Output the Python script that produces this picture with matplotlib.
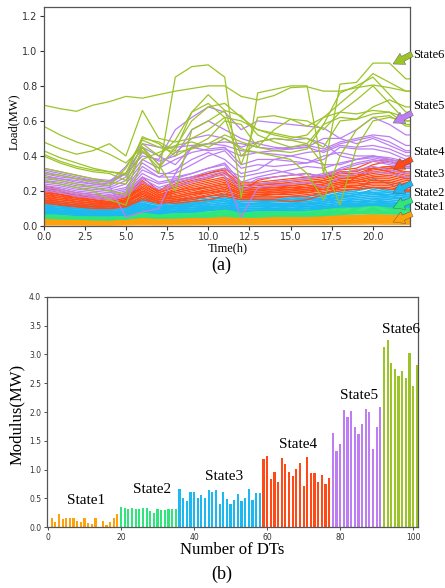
import matplotlib
matplotlib.use("Agg")
import matplotlib.pyplot as plt
import numpy as np

# ---------------- data ----------------
hours = list(range(24))

state_names = ["State1", "State2", "State3", "State4", "State5", "State6"]
state_colors = ["#FFA10A", "#2EE67C", "#1CB8F2", "#FF4A17", "#BC7EF2", "#9CC428"]

state1_loads = [
    [0.050,0.048,0.045,0.043,0.040,0.043,0.050,0.046,0.048,0.050,0.052,0.055,0.052,0.052,0.053,0.054,0.055,0.056,0.060,0.062,0.065,0.063,0.060,0.060],
    [0.047,0.045,0.043,0.041,0.039,0.041,0.047,0.044,0.046,0.048,0.050,0.052,0.049,0.050,0.051,0.051,0.052,0.054,0.057,0.059,0.061,0.060,0.058,0.058],
    [0.044,0.042,0.040,0.038,0.037,0.039,0.045,0.042,0.043,0.045,0.047,0.049,0.047,0.047,0.048,0.049,0.050,0.051,0.054,0.056,0.058,0.057,0.055,0.055],
    [0.042,0.040,0.038,0.036,0.035,0.037,0.043,0.040,0.041,0.043,0.045,0.047,0.045,0.045,0.046,0.046,0.047,0.049,0.052,0.053,0.055,0.054,0.052,0.052],
    [0.040,0.038,0.036,0.035,0.033,0.035,0.041,0.038,0.039,0.041,0.043,0.045,0.043,0.043,0.044,0.044,0.045,0.047,0.049,0.051,0.053,0.052,0.050,0.050],
    [0.038,0.036,0.035,0.033,0.032,0.034,0.039,0.036,0.038,0.039,0.041,0.043,0.041,0.041,0.042,0.042,0.043,0.045,0.047,0.049,0.050,0.049,0.048,0.048],
    [0.036,0.035,0.033,0.032,0.030,0.032,0.037,0.035,0.036,0.037,0.039,0.041,0.039,0.039,0.040,0.040,0.041,0.043,0.045,0.046,0.048,0.047,0.046,0.046],
    [0.034,0.033,0.031,0.030,0.029,0.030,0.035,0.033,0.034,0.035,0.037,0.039,0.037,0.037,0.038,0.038,0.039,0.041,0.043,0.044,0.046,0.045,0.043,0.043],
    [0.032,0.031,0.030,0.028,0.027,0.029,0.033,0.031,0.032,0.034,0.035,0.037,0.035,0.035,0.036,0.036,0.037,0.038,0.041,0.042,0.043,0.043,0.041,0.041],
    [0.030,0.029,0.028,0.027,0.026,0.027,0.031,0.029,0.030,0.032,0.033,0.035,0.033,0.033,0.034,0.034,0.035,0.036,0.038,0.040,0.041,0.040,0.039,0.039],
    [0.028,0.027,0.026,0.025,0.024,0.025,0.029,0.027,0.028,0.030,0.031,0.032,0.031,0.031,0.032,0.032,0.033,0.034,0.036,0.037,0.039,0.038,0.037,0.037],
    [0.026,0.025,0.024,0.023,0.022,0.024,0.027,0.025,0.026,0.028,0.029,0.030,0.029,0.029,0.030,0.030,0.031,0.032,0.034,0.035,0.036,0.036,0.035,0.035],
    [0.024,0.023,0.022,0.021,0.021,0.022,0.025,0.024,0.024,0.026,0.027,0.028,0.027,0.027,0.028,0.028,0.029,0.030,0.032,0.033,0.034,0.033,0.032,0.032],
    [0.022,0.021,0.020,0.019,0.019,0.020,0.023,0.022,0.022,0.024,0.025,0.026,0.025,0.025,0.026,0.026,0.027,0.028,0.029,0.030,0.031,0.031,0.030,0.030],
    [0.019,0.018,0.018,0.017,0.017,0.018,0.021,0.019,0.020,0.021,0.022,0.023,0.022,0.022,0.023,0.023,0.024,0.025,0.026,0.027,0.028,0.028,0.027,0.027],
    [0.016,0.016,0.015,0.015,0.014,0.015,0.018,0.017,0.017,0.018,0.019,0.020,0.019,0.019,0.020,0.020,0.021,0.022,0.023,0.024,0.025,0.024,0.024,0.024],
    [0.013,0.013,0.012,0.012,0.012,0.013,0.015,0.014,0.014,0.015,0.016,0.017,0.016,0.016,0.017,0.017,0.018,0.018,0.019,0.020,0.021,0.021,0.020,0.020],
    [0.010,0.010,0.009,0.009,0.009,0.010,0.011,0.011,0.011,0.012,0.012,0.013,0.012,0.012,0.013,0.013,0.013,0.014,0.015,0.016,0.016,0.016,0.015,0.015],
    [0.006,0.006,0.006,0.005,0.005,0.006,0.007,0.006,0.007,0.007,0.008,0.008,0.008,0.008,0.008,0.008,0.009,0.009,0.010,0.010,0.011,0.010,0.010,0.010],
]

state2_loads = [
    [0.090,0.080,0.080,0.070,0.070,0.080,0.100,0.090,0.090,0.100,0.100,0.110,0.100,0.100,0.100,0.100,0.100,0.110,0.120,0.130,0.140,0.130,0.130,0.130],
    [0.085,0.080,0.075,0.070,0.065,0.070,0.090,0.080,0.085,0.090,0.095,0.100,0.090,0.090,0.095,0.095,0.100,0.105,0.115,0.120,0.130,0.125,0.120,0.120],
    [0.080,0.075,0.070,0.065,0.060,0.065,0.085,0.075,0.080,0.085,0.090,0.095,0.085,0.085,0.090,0.090,0.090,0.100,0.110,0.115,0.120,0.120,0.110,0.110],
    [0.075,0.070,0.065,0.060,0.060,0.065,0.080,0.070,0.075,0.080,0.085,0.090,0.080,0.080,0.085,0.085,0.090,0.095,0.100,0.110,0.115,0.110,0.105,0.105],
    [0.070,0.065,0.060,0.060,0.055,0.060,0.075,0.070,0.070,0.075,0.080,0.085,0.080,0.080,0.080,0.080,0.085,0.090,0.100,0.105,0.110,0.105,0.100,0.100],
    [0.070,0.065,0.060,0.055,0.050,0.055,0.070,0.065,0.070,0.070,0.075,0.080,0.075,0.075,0.075,0.080,0.080,0.085,0.095,0.100,0.105,0.100,0.095,0.095],
    [0.065,0.060,0.055,0.050,0.050,0.055,0.070,0.060,0.065,0.070,0.075,0.080,0.070,0.070,0.075,0.075,0.075,0.080,0.090,0.095,0.100,0.095,0.090,0.090],
    [0.060,0.055,0.055,0.050,0.045,0.050,0.065,0.060,0.060,0.065,0.070,0.075,0.070,0.070,0.070,0.070,0.075,0.080,0.085,0.090,0.095,0.090,0.090,0.090],
    [0.060,0.055,0.050,0.045,0.045,0.050,0.060,0.055,0.060,0.060,0.065,0.070,0.065,0.065,0.065,0.070,0.070,0.075,0.080,0.085,0.090,0.085,0.085,0.085],
    [0.055,0.050,0.050,0.045,0.040,0.045,0.060,0.055,0.055,0.060,0.065,0.070,0.060,0.060,0.065,0.065,0.065,0.070,0.080,0.080,0.085,0.080,0.080,0.080],
    [0.050,0.050,0.045,0.040,0.040,0.045,0.055,0.050,0.055,0.055,0.060,0.065,0.060,0.060,0.060,0.060,0.065,0.070,0.075,0.080,0.080,0.080,0.075,0.075],
    [0.050,0.045,0.045,0.040,0.040,0.040,0.055,0.050,0.050,0.055,0.060,0.060,0.055,0.055,0.060,0.060,0.060,0.065,0.070,0.075,0.080,0.075,0.070,0.070],
    [0.045,0.045,0.040,0.040,0.035,0.040,0.050,0.045,0.050,0.050,0.055,0.060,0.055,0.055,0.055,0.055,0.060,0.060,0.070,0.070,0.075,0.070,0.070,0.070],
    [0.045,0.040,0.040,0.035,0.035,0.040,0.050,0.045,0.045,0.050,0.050,0.055,0.050,0.050,0.055,0.055,0.055,0.060,0.065,0.070,0.070,0.070,0.065,0.065],
    [0.080,0.070,0.065,0.060,0.060,0.070,0.090,0.075,0.090,0.100,0.105,0.110,0.090,0.085,0.090,0.095,0.100,0.100,0.110,0.120,0.125,0.120,0.115,0.115],
    [0.065,0.060,0.060,0.055,0.050,0.060,0.080,0.070,0.075,0.080,0.090,0.090,0.080,0.075,0.080,0.085,0.090,0.095,0.105,0.110,0.115,0.110,0.100,0.100],
]

state3_loads = [
    [0.15,0.14,0.13,0.12,0.12,0.13,0.16,0.14,0.15,0.16,0.17,0.18,0.16,0.16,0.16,0.16,0.17,0.18,0.20,0.21,0.22,0.21,0.20,0.20],
    [0.14,0.13,0.12,0.12,0.11,0.12,0.15,0.13,0.14,0.15,0.16,0.17,0.15,0.15,0.15,0.16,0.16,0.17,0.19,0.20,0.27,0.24,0.19,0.19],
    [0.14,0.13,0.12,0.11,0.11,0.12,0.15,0.13,0.13,0.14,0.15,0.16,0.15,0.15,0.15,0.15,0.16,0.17,0.18,0.19,0.20,0.20,0.19,0.19],
    [0.13,0.12,0.12,0.11,0.10,0.11,0.14,0.12,0.13,0.14,0.15,0.16,0.14,0.14,0.15,0.15,0.15,0.16,0.18,0.19,0.19,0.19,0.18,0.18],
    [0.13,0.12,0.11,0.10,0.10,0.11,0.14,0.12,0.12,0.13,0.14,0.15,0.14,0.14,0.14,0.14,0.15,0.16,0.17,0.18,0.19,0.18,0.17,0.17],
    [0.12,0.11,0.11,0.10,0.09,0.10,0.13,0.11,0.12,0.13,0.14,0.15,0.13,0.13,0.14,0.14,0.14,0.15,0.17,0.17,0.18,0.18,0.17,0.17],
    [0.12,0.11,0.10,0.10,0.09,0.10,0.13,0.11,0.12,0.12,0.13,0.14,0.13,0.13,0.13,0.13,0.14,0.15,0.16,0.17,0.18,0.17,0.16,0.16],
    [0.11,0.11,0.10,0.09,0.09,0.10,0.12,0.11,0.11,0.12,0.13,0.14,0.12,0.13,0.13,0.13,0.13,0.14,0.16,0.16,0.17,0.17,0.16,0.16],
    [0.11,0.10,0.10,0.09,0.08,0.09,0.12,0.10,0.11,0.12,0.12,0.13,0.12,0.12,0.12,0.13,0.13,0.14,0.15,0.16,0.17,0.16,0.15,0.15],
    [0.11,0.10,0.09,0.09,0.08,0.09,0.12,0.10,0.11,0.11,0.12,0.13,0.12,0.12,0.12,0.12,0.13,0.13,0.15,0.15,0.16,0.16,0.15,0.15],
    [0.10,0.10,0.09,0.08,0.08,0.09,0.11,0.10,0.10,0.11,0.12,0.13,0.11,0.11,0.12,0.12,0.12,0.13,0.14,0.15,0.16,0.15,0.14,0.14],
    [0.10,0.09,0.09,0.08,0.08,0.08,0.11,0.09,0.10,0.11,0.11,0.12,0.11,0.11,0.11,0.12,0.12,0.13,0.14,0.14,0.15,0.15,0.14,0.14],
    [0.10,0.09,0.08,0.08,0.07,0.08,0.11,0.09,0.10,0.10,0.11,0.12,0.11,0.11,0.11,0.11,0.12,0.12,0.13,0.14,0.15,0.14,0.13,0.13],
    [0.09,0.09,0.08,0.08,0.07,0.08,0.10,0.09,0.09,0.10,0.11,0.12,0.10,0.10,0.11,0.11,0.11,0.12,0.13,0.14,0.14,0.14,0.13,0.13],
    [0.09,0.08,0.08,0.07,0.07,0.08,0.10,0.08,0.09,0.10,0.10,0.11,0.10,0.10,0.10,0.11,0.11,0.12,0.13,0.13,0.14,0.13,0.13,0.13],
    [0.09,0.08,0.08,0.07,0.07,0.07,0.10,0.08,0.09,0.09,0.10,0.11,0.10,0.10,0.10,0.10,0.11,0.11,0.12,0.13,0.13,0.13,0.12,0.12],
    [0.08,0.08,0.07,0.07,0.06,0.07,0.09,0.08,0.08,0.09,0.10,0.11,0.09,0.09,0.10,0.10,0.10,0.11,0.12,0.12,0.13,0.13,0.12,0.12],
    [0.08,0.07,0.07,0.07,0.06,0.07,0.09,0.08,0.08,0.09,0.09,0.10,0.09,0.09,0.09,0.10,0.10,0.11,0.12,0.12,0.12,0.12,0.11,0.11],
    [0.08,0.07,0.07,0.06,0.06,0.07,0.09,0.07,0.08,0.08,0.09,0.10,0.09,0.09,0.09,0.09,0.10,0.10,0.11,0.12,0.12,0.12,0.11,0.11],
    [0.07,0.07,0.06,0.06,0.06,0.06,0.08,0.07,0.08,0.08,0.09,0.10,0.08,0.09,0.09,0.09,0.09,0.10,0.11,0.11,0.12,0.11,0.11,0.11],
    [0.12,0.11,0.10,0.09,0.09,0.10,0.15,0.13,0.10,0.12,0.14,0.18,0.17,0.15,0.14,0.14,0.15,0.16,0.19,0.20,0.22,0.20,0.18,0.18],
    [0.13,0.12,0.11,0.10,0.10,0.11,0.13,0.10,0.12,0.14,0.15,0.14,0.12,0.13,0.14,0.15,0.16,0.15,0.16,0.18,0.21,0.19,0.17,0.17],
    [0.10,0.09,0.09,0.08,0.08,0.09,0.12,0.10,0.11,0.13,0.14,0.15,0.13,0.12,0.12,0.12,0.13,0.14,0.17,0.18,0.19,0.17,0.15,0.15],
]

state4_loads = [
    [0.23,0.21,0.19,0.18,0.17,0.19,0.28,0.20,0.24,0.27,0.30,0.33,0.25,0.25,0.26,0.27,0.28,0.29,0.32,0.33,0.37,0.38,0.36,0.36],
    [0.22,0.20,0.18,0.17,0.16,0.18,0.26,0.19,0.23,0.26,0.28,0.31,0.24,0.24,0.25,0.26,0.27,0.28,0.31,0.31,0.35,0.37,0.34,0.34],
    [0.21,0.19,0.18,0.16,0.15,0.17,0.25,0.19,0.22,0.25,0.27,0.30,0.23,0.24,0.24,0.25,0.26,0.27,0.30,0.30,0.33,0.34,0.33,0.33],
    [0.20,0.18,0.17,0.16,0.15,0.17,0.24,0.18,0.21,0.24,0.26,0.28,0.23,0.23,0.24,0.24,0.25,0.26,0.29,0.29,0.32,0.33,0.31,0.31],
    [0.19,0.18,0.16,0.15,0.14,0.16,0.23,0.18,0.20,0.23,0.25,0.27,0.22,0.22,0.23,0.23,0.24,0.26,0.28,0.28,0.31,0.32,0.30,0.30],
    [0.19,0.17,0.16,0.15,0.14,0.16,0.22,0.17,0.20,0.22,0.24,0.26,0.21,0.22,0.22,0.23,0.24,0.25,0.27,0.28,0.30,0.31,0.29,0.29],
    [0.18,0.17,0.15,0.14,0.13,0.15,0.22,0.17,0.19,0.21,0.23,0.25,0.21,0.21,0.22,0.22,0.23,0.24,0.27,0.27,0.29,0.30,0.28,0.28],
    [0.18,0.16,0.15,0.14,0.13,0.15,0.21,0.16,0.19,0.21,0.22,0.24,0.20,0.21,0.21,0.22,0.22,0.24,0.26,0.26,0.28,0.29,0.27,0.27],
    [0.17,0.16,0.14,0.13,0.13,0.14,0.20,0.16,0.18,0.20,0.22,0.24,0.20,0.20,0.21,0.21,0.22,0.23,0.25,0.26,0.28,0.28,0.26,0.26],
    [0.17,0.15,0.14,0.13,0.12,0.14,0.20,0.16,0.17,0.19,0.21,0.23,0.19,0.20,0.20,0.21,0.21,0.23,0.25,0.25,0.27,0.27,0.25,0.25],
    [0.16,0.15,0.14,0.13,0.12,0.14,0.19,0.15,0.17,0.19,0.20,0.22,0.19,0.19,0.20,0.20,0.21,0.22,0.24,0.25,0.26,0.26,0.24,0.24],
    [0.16,0.14,0.13,0.12,0.12,0.13,0.19,0.15,0.16,0.18,0.20,0.22,0.18,0.19,0.19,0.20,0.20,0.22,0.24,0.24,0.25,0.25,0.23,0.23],
    [0.15,0.14,0.13,0.12,0.11,0.13,0.18,0.15,0.16,0.18,0.19,0.21,0.18,0.18,0.19,0.19,0.20,0.21,0.23,0.23,0.25,0.25,0.23,0.23],
    [0.15,0.13,0.12,0.11,0.11,0.12,0.17,0.14,0.15,0.17,0.19,0.20,0.17,0.18,0.18,0.19,0.19,0.21,0.22,0.23,0.24,0.24,0.22,0.22],
    [0.14,0.13,0.12,0.11,0.10,0.12,0.17,0.14,0.15,0.16,0.18,0.20,0.17,0.17,0.18,0.18,0.19,0.20,0.22,0.22,0.23,0.23,0.21,0.21],
    [0.14,0.12,0.11,0.11,0.10,0.11,0.16,0.13,0.14,0.16,0.17,0.19,0.16,0.17,0.17,0.17,0.18,0.19,0.21,0.21,0.22,0.22,0.20,0.20],
    [0.13,0.12,0.11,0.10,0.10,0.11,0.15,0.13,0.14,0.15,0.17,0.18,0.16,0.16,0.16,0.17,0.17,0.19,0.20,0.21,0.22,0.21,0.20,0.20],
    [0.22,0.20,0.17,0.15,0.13,0.14,0.18,0.14,0.13,0.14,0.15,0.17,0.15,0.15,0.15,0.14,0.15,0.18,0.22,0.28,0.33,0.34,0.30,0.30],
    [0.20,0.18,0.16,0.14,0.13,0.15,0.25,0.20,0.26,0.28,0.30,0.32,0.19,0.26,0.28,0.29,0.30,0.28,0.30,0.32,0.33,0.31,0.27,0.27],
]

state5_loads = [
    [0.33,0.31,0.29,0.27,0.26,0.30,0.40,0.38,0.55,0.62,0.68,0.65,0.55,0.60,0.59,0.58,0.57,0.56,0.50,0.55,0.62,0.58,0.52,0.52],
    [0.32,0.30,0.28,0.26,0.25,0.34,0.47,0.45,0.45,0.46,0.47,0.48,0.47,0.45,0.44,0.45,0.46,0.44,0.48,0.50,0.52,0.51,0.46,0.46],
    [0.30,0.28,0.27,0.25,0.24,0.30,0.45,0.40,0.35,0.45,0.47,0.46,0.43,0.42,0.41,0.40,0.42,0.43,0.47,0.49,0.51,0.48,0.43,0.43],
    [0.28,0.27,0.25,0.24,0.23,0.28,0.42,0.37,0.40,0.55,0.60,0.55,0.50,0.47,0.45,0.44,0.45,0.50,0.50,0.47,0.50,0.46,0.42,0.42],
    [0.27,0.26,0.24,0.23,0.22,0.26,0.38,0.33,0.38,0.42,0.44,0.45,0.35,0.38,0.38,0.37,0.36,0.38,0.45,0.44,0.44,0.42,0.38,0.38],
    [0.26,0.25,0.23,0.22,0.21,0.24,0.36,0.30,0.30,0.35,0.40,0.43,0.33,0.35,0.34,0.35,0.36,0.40,0.42,0.40,0.40,0.38,0.36,0.36],
    [0.25,0.24,0.22,0.21,0.20,0.22,0.34,0.28,0.32,0.38,0.42,0.38,0.30,0.32,0.38,0.40,0.38,0.35,0.35,0.38,0.40,0.39,0.37,0.37],
    [0.24,0.23,0.21,0.20,0.19,0.21,0.32,0.28,0.28,0.30,0.33,0.36,0.25,0.28,0.30,0.32,0.34,0.33,0.36,0.38,0.39,0.37,0.35,0.35],
    [0.23,0.22,0.20,0.19,0.18,0.20,0.30,0.25,0.27,0.30,0.33,0.35,0.22,0.27,0.28,0.29,0.30,0.28,0.33,0.36,0.38,0.36,0.34,0.34],
    [0.22,0.21,0.19,0.18,0.17,0.19,0.28,0.24,0.26,0.28,0.31,0.33,0.28,0.30,0.32,0.30,0.28,0.30,0.32,0.35,0.37,0.35,0.33,0.33],
    [0.21,0.20,0.18,0.17,0.16,0.18,0.27,0.22,0.25,0.27,0.29,0.31,0.20,0.24,0.25,0.26,0.27,0.29,0.30,0.32,0.34,0.32,0.30,0.30],
    [0.20,0.19,0.17,0.16,0.15,0.17,0.25,0.21,0.23,0.25,0.28,0.29,0.05,0.22,0.23,0.24,0.25,0.22,0.28,0.30,0.31,0.30,0.28,0.28],
    [0.31,0.29,0.27,0.26,0.25,0.30,0.45,0.35,0.42,0.50,0.52,0.50,0.45,0.48,0.50,0.49,0.50,0.47,0.40,0.38,0.40,0.38,0.36,0.36],
    [0.29,0.27,0.26,0.24,0.23,0.05,0.08,0.10,0.30,0.45,0.43,0.44,0.40,0.42,0.43,0.44,0.45,0.42,0.46,0.45,0.46,0.44,0.40,0.40],
]

state6_loads = [
    [0.69,0.67,0.655,0.69,0.71,0.74,0.73,0.75,0.77,0.785,0.80,0.80,0.74,0.72,0.745,0.79,0.795,0.77,0.77,0.79,0.805,0.79,0.77,0.77],
    [0.57,0.52,0.48,0.45,0.41,0.36,0.45,0.30,0.85,0.91,0.92,0.85,0.16,0.76,0.78,0.80,0.80,0.30,0.81,0.82,0.93,0.93,0.84,0.84],
    [0.48,0.44,0.41,0.43,0.47,0.40,0.66,0.50,0.48,0.50,0.55,0.62,0.60,0.55,0.52,0.50,0.52,0.62,0.70,0.78,0.87,0.82,0.77,0.77],
    [0.43,0.39,0.36,0.33,0.31,0.30,0.50,0.48,0.43,0.65,0.75,0.66,0.63,0.52,0.48,0.45,0.47,0.58,0.76,0.80,0.85,0.75,0.65,0.65],
    [0.41,0.37,0.34,0.32,0.31,0.29,0.51,0.47,0.40,0.45,0.50,0.60,0.58,0.45,0.55,0.61,0.60,0.55,0.65,0.72,0.80,0.70,0.60,0.60],
    [0.40,0.36,0.33,0.31,0.30,0.26,0.47,0.40,0.49,0.65,0.70,0.62,0.35,0.62,0.63,0.61,0.57,0.62,0.65,0.64,0.66,0.65,0.62,0.62],
    [0.33,0.31,0.29,0.27,0.25,0.24,0.43,0.33,0.45,0.60,0.68,0.70,0.62,0.55,0.53,0.51,0.50,0.45,0.60,0.61,0.68,0.72,0.68,0.68],
    [0.30,0.29,0.27,0.25,0.23,0.33,0.49,0.45,0.42,0.44,0.47,0.52,0.48,0.45,0.43,0.42,0.44,0.58,0.62,0.61,0.64,0.65,0.58,0.58],
    [0.28,0.26,0.24,0.22,0.20,0.18,0.45,0.35,0.20,0.55,0.60,0.66,0.40,0.48,0.50,0.49,0.47,0.35,0.12,0.45,0.60,0.62,0.60,0.60],
    [0.26,0.24,0.22,0.20,0.15,0.12,0.38,0.42,0.46,0.48,0.45,0.50,0.44,0.42,0.40,0.38,0.30,0.15,0.40,0.55,0.62,0.63,0.57,0.57],
]

# modulus of each DT (panel b), DT numbers 1..101
state1_modulus = [0.156,0.10,0.226,0.15,0.17,0.17,0.17,0.116,0.10,0.17,0.07,0.05,0.156,0.01,0.116,0.04,0.10,0.17,0.226]
state2_modulus = [0.36,0.33,0.32,0.34,0.32,0.31,0.34,0.33,0.29,0.24,0.31,0.30,0.30,0.31,0.31,0.31]
state3_modulus = [0.66,0.50,0.46,0.61,0.62,0.50,0.56,0.51,0.65,0.61,0.64,0.41,0.61,0.49,0.41,0.475,0.58,0.46,0.50,0.66,0.475,0.60,0.59]
state4_modulus = [1.18,1.23,0.84,0.96,0.78,1.20,1.09,0.96,0.89,1.01,1.11,0.72,1.22,0.95,0.94,0.78,0.90,0.75,0.85]
state5_modulus = [1.63,1.33,1.44,2.03,1.92,2.01,1.74,1.61,1.80,2.06,2.00,1.36,1.74,2.09]
state6_modulus = [3.13,3.25,2.85,2.74,2.62,2.72,2.59,3.03,2.45,2.82]

all_loads = [state1_loads, state2_loads, state3_loads, state4_loads, state5_loads, state6_loads]
all_modulus = [state1_modulus, state2_modulus, state3_modulus, state4_modulus, state5_modulus, state6_modulus]

# ---------------- figure ----------------
serif = ["Liberation Serif", "DejaVu Serif"]
fig = plt.figure(figsize=(4.45, 5.88), dpi=100)
fig.patch.set_facecolor("white")

# panel (a)
ax1 = fig.add_axes([0.0978, 0.6156, 0.824, 0.3724])
for loads, col in zip(all_loads, state_colors):
    for ln in loads:
        ax1.plot(hours, ln, color=col, lw=0.9)
ax1.set_xlim(0, 22.26)
ax1.set_ylim(0, 1.25)
ax1.set_xticks([0, 2.5, 5, 7.5, 10, 12.5, 15, 17.5, 20])
ax1.set_xticklabels(["0.0", "2.5", "5.0", "7.5", "10.0", "12.5", "15.0", "17.5", "20.0"])
ax1.set_yticks([0, 0.2, 0.4, 0.6, 0.8, 1.0, 1.2])
ax1.set_yticklabels(["0.0", "0.2", "0.4", "0.6", "0.8", "1.0", "1.2"])
ax1.tick_params(labelsize=7, length=3, width=0.8, colors="#333333", pad=1.5)

# arrows and labels at the right of panel (a)
arrow_tails = [(412, 214), (412, 200), (412, 183), (412, 159), (412, 113), (412, 54)]
arrow_heads = [(393, 222), (393, 208), (393, 193), (393, 169), (393, 123), (393, 64)]
label_y = [207, 193, 174, 152, 106, 55]
W, H = 445.0, 588.0
for name, col, tail, head, ly in zip(state_names, state_colors, arrow_tails, arrow_heads, label_y):
    ax1.annotate("", xy=(head[0] / W, 1 - head[1] / H), xycoords="figure fraction",
                 xytext=(tail[0] / W, 1 - tail[1] / H), textcoords="figure fraction",
                 arrowprops=dict(arrowstyle="simple,head_length=0.8,head_width=0.9,tail_width=0.4",
                                 fc=col, ec="#555555", lw=0.3, mutation_scale=10,
                                 shrinkA=0, shrinkB=0),
                 annotation_clip=False)
    fig.text(413 / W, 1 - ly / H, name, family=serif, fontsize=9, va="center", ha="left")

fig.text(0.031, 0.793, "Load(MW)", family=serif, fontsize=9, rotation=90, va="center", ha="center")
fig.text(0.511, 0.578, "Time(h)", family=serif, fontsize=9, va="center", ha="center")
fig.text(0.498, 0.548, "(a)", family=serif, fontsize=13, va="center", ha="center")

# panel (b)
ax2 = fig.add_axes([0.105, 0.1032, 0.835, 0.3922])
start = 1
for mod, col in zip(all_modulus, state_colors):
    idx = np.arange(start, start + len(mod))
    ax2.bar(idx, mod, width=0.6, color=col, linewidth=0)
    start += len(mod)
ax2.set_xlim(-0.35, 101.4)
ax2.set_ylim(0, 4.0)
ax2.set_xticks([0, 20, 40, 60, 80, 100])
ax2.set_yticks([0, 0.5, 1.0, 1.5, 2.0, 2.5, 3.0, 3.5, 4.0])
ax2.set_yticklabels(["0.0", "0.5", "1.0", "1.5", "2.0", "2.5", "3.0", "3.5", "4.0"])
ax2.tick_params(labelsize=5.5, length=2, width=0.6, colors="#333333", pad=2)

label_xy_b = [(10.5, 0.46), (28.4, 0.65), (48.2, 0.89), (68.5, 1.43), (85.1, 2.28), (96.6, 3.43)]
for name, (lx, ly) in zip(state_names, label_xy_b):
    ax2.text(lx, ly, name, family=serif, fontsize=11, ha="center", va="center")

fig.text(0.039, 0.296, "Modulus(MW)", family=serif, fontsize=12, rotation=90, va="center", ha="center")
fig.text(0.522, 0.065, "Number of DTs", family=serif, fontsize=12, va="center", ha="center")
fig.text(0.498, 0.024, "(b)", family=serif, fontsize=13, va="center", ha="center")

for ax in (ax1, ax2):
    for s in ax.spines.values():
        s.set_color("#555555")
        s.set_linewidth(0.9)

fig.savefig("out.png", dpi=100, facecolor="white")
